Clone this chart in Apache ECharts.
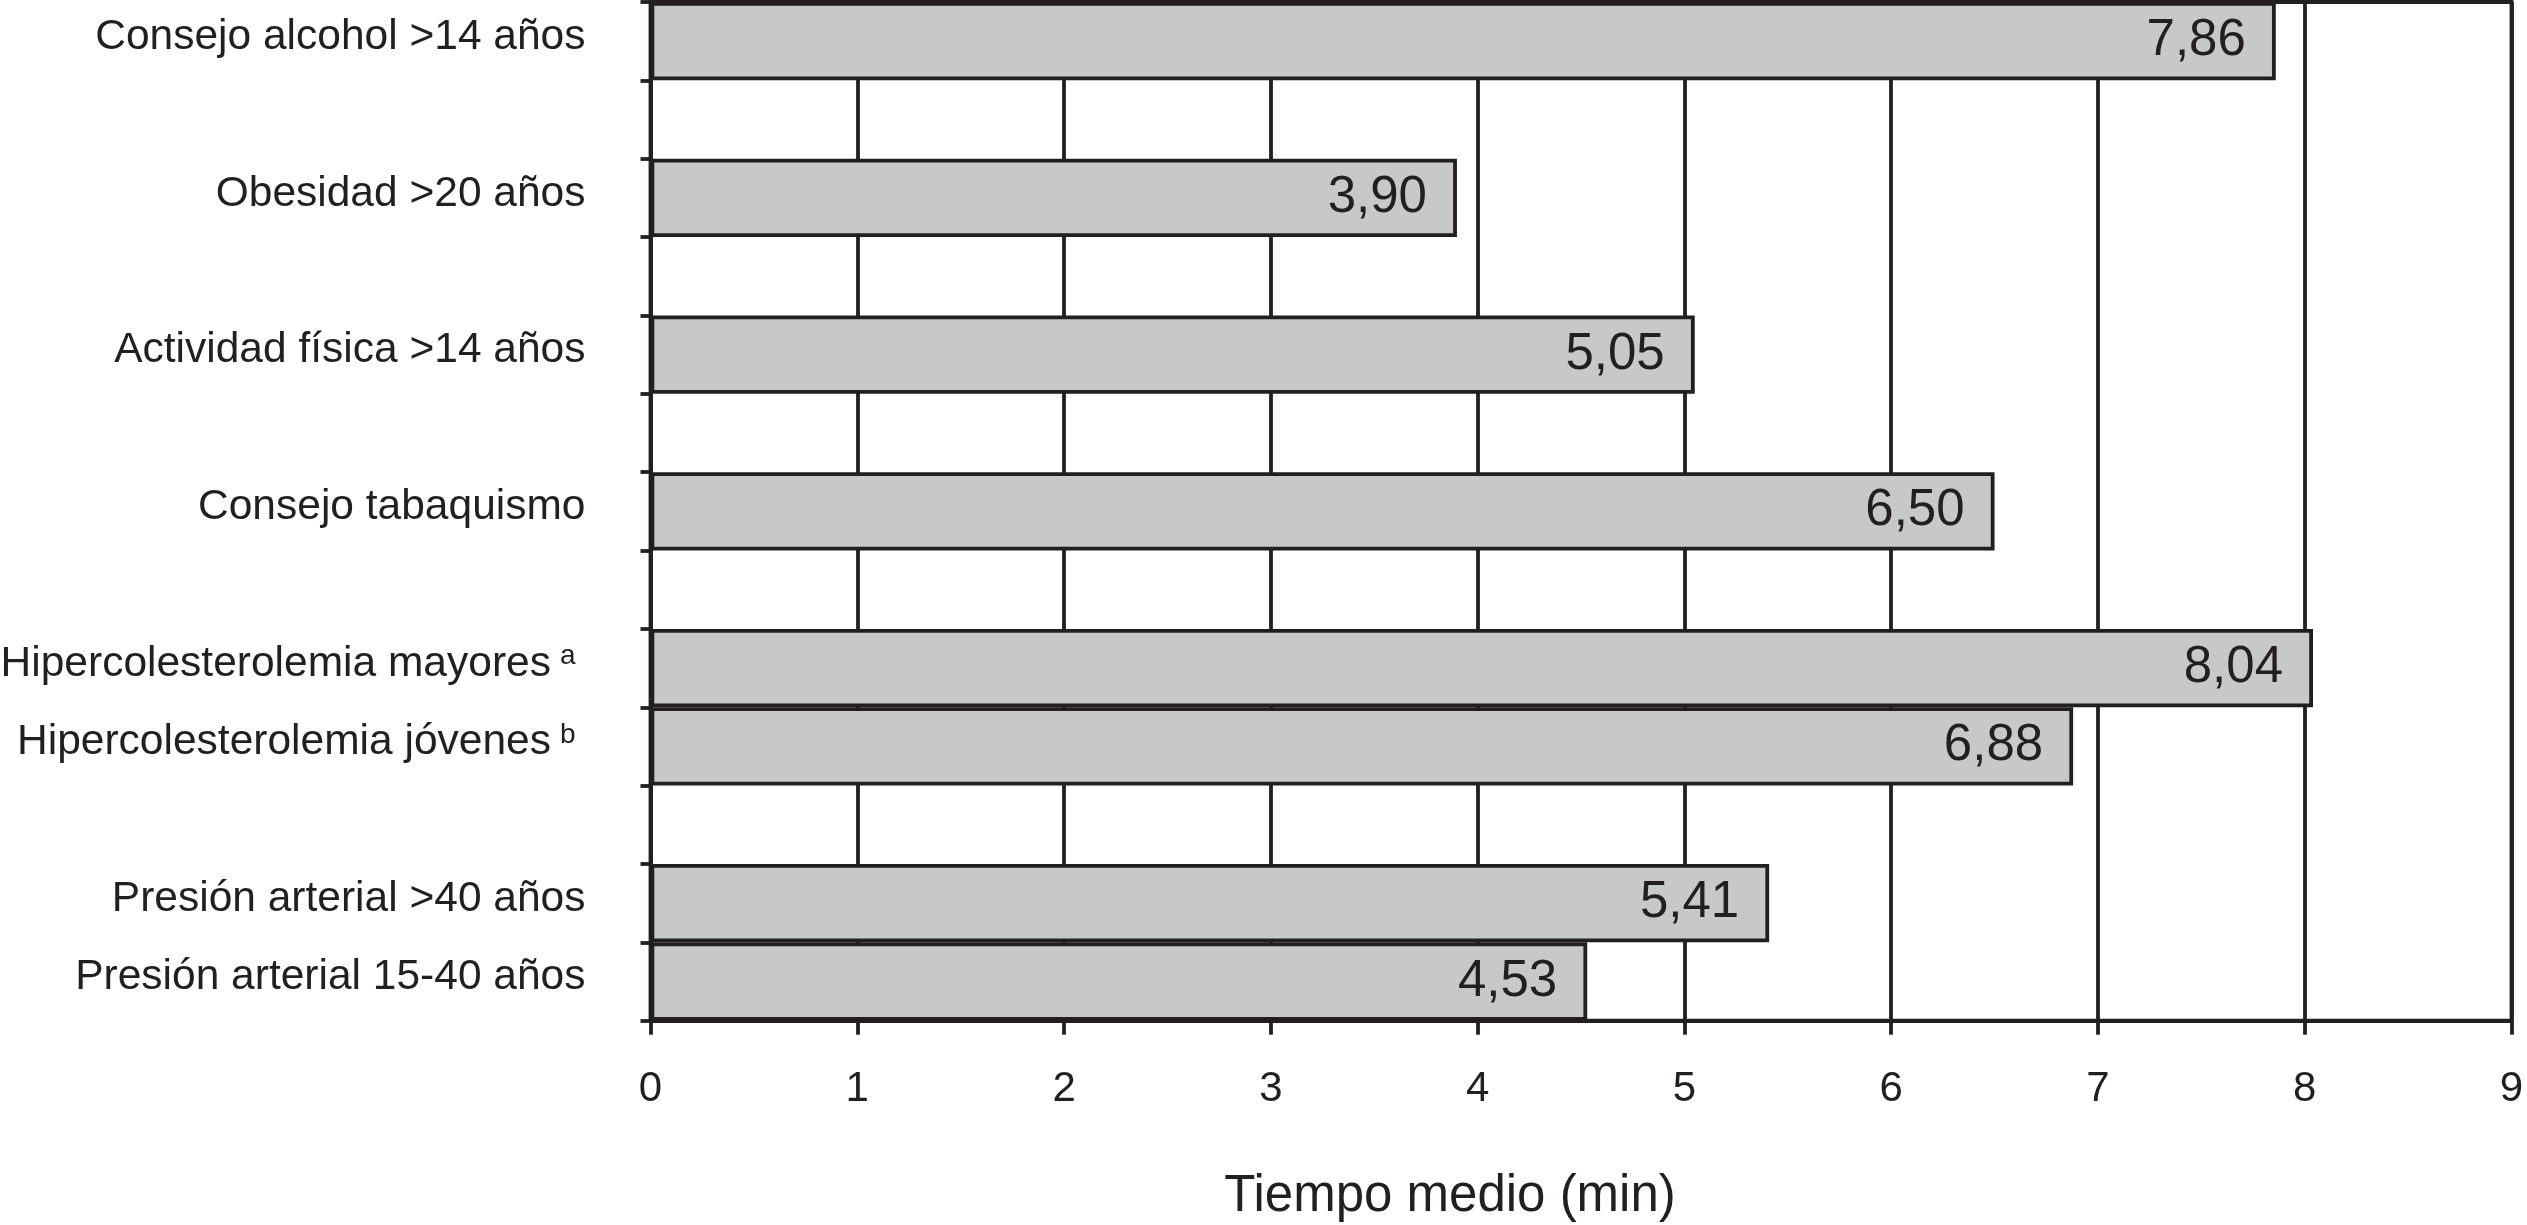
<!DOCTYPE html>
<html>
<head>
<meta charset="utf-8">
<script src="https://cdn.jsdelivr.net/npm/echarts@6/dist/echarts.min.js"></script>
<style>
html,body{margin:0;padding:0;background:#fff;}
#chart{width:2527px;height:1225px;}
</style>
</head>
<body>
<div id="chart"></div>
<script>
// Categories from top to bottom (blank entries are empty spacer rows)
const categories = ['Consejo alcohol >14 años', '', 'Obesidad >20 años', '', 'Actividad física >14 años', '', 'Consejo tabaquismo', '', 'Hipercolesterolemia mayores', 'Hipercolesterolemia jóvenes', '', 'Presión arterial >40 años', 'Presión arterial 15-40 años'];
const footnotes = ['', '', '', '', '', '', '', '', 'a', 'b', '', '', ''];
const values = [7.86, null, 3.90, null, 5.05, null, 6.50, null, 8.04, 6.88, null, 5.41, 4.53];
const xMin = 0, xMax = 9, xStep = 1;
const axisTitle = 'Tiempo medio (min)';

const INK = '#231f20';
const FONT = '"Liberation Sans", Arial, Helvetica, sans-serif';
const LW = 3.8;

const chart = echarts.init(document.getElementById('chart'), null, {renderer: 'canvas'});
chart.setOption({
  backgroundColor: '#ffffff',
  animation: false,
  textStyle: {fontFamily: FONT, color: INK},
  grid: {
    left: 650.5, right: 15.5, top: 2, bottom: 204.3,
    containLabel: false, outerBoundsMode: 'none',
    show: true, borderColor: INK, borderWidth: LW, backgroundColor: 'transparent'
  },
  xAxis: {
    type: 'value', min: xMin, max: xMax, interval: xStep,
    axisLine: {show: true, lineStyle: {color: INK, width: LW}},
    axisTick: {show: true, length: 14, lineStyle: {color: INK, width: LW}},
    axisLabel: {fontSize: 42, color: INK, margin: 48, fontFamily: FONT},
    splitLine: {show: true, lineStyle: {color: INK, width: LW}}
  },
  yAxis: {
    type: 'category', inverse: true, data: categories,
    axisLine: {show: true, lineStyle: {color: INK, width: LW}},
    axisTick: {show: true, length: 10, lineStyle: {color: INK, width: LW}},
    axisLabel: {
      margin: 65, padding: [0, 0, 8, 0],
      formatter: function (v, i) {
        if (!v) return '';
        const fn = footnotes[i];
        return fn ? '{n|' + v + '}{s|' + fn + '}' : '{n|' + v + '}';
      },
      rich: {
        n: {fontSize: 42.5, color: INK, fontFamily: FONT},
        s: {fontSize: 28, color: INK, fontFamily: FONT, verticalAlign: 'top', padding: [0, 10, 0, 9]}
      }
    },
    splitLine: {show: false}
  },
  series: [{
    type: 'bar',
    data: values.map(v => v == null ? '-' : v),
    barCategoryGap: '0%',
    itemStyle: {color: '#c7c8ca', borderColor: INK, borderWidth: LW},
    label: {
      show: true, position: 'insideRight', distance: 30,
      fontSize: 51, color: INK, fontFamily: FONT,
      formatter: p => p.value.toFixed(2).replace('.', ',')
    }
  }],
  graphic: [{
    type: 'text', x: 1450, y: 1197,
    style: {
      text: axisTitle, fill: INK, font: '51px ' + FONT,
      align: 'center', verticalAlign: 'middle',
      textAlign: 'center', textVerticalAlign: 'middle'
    }
  }]
});
</script>
</body>
</html>
